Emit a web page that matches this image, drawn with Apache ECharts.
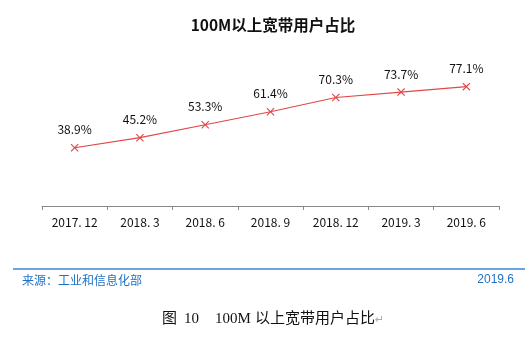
<!DOCTYPE html>
<html><head><meta charset="utf-8">
<script src="https://cdn.jsdelivr.net/npm/echarts@6/dist/echarts.min.js"></script>
<style>html,body{margin:0;padding:0;background:#fff}#c{width:525px;height:343px}</style>
</head><body><div id="c"></div>
<script>
const categories = ['2017. 12','2018. 3','2018. 6','2018. 9','2018. 12','2019. 3','2019. 6'];
const values = [38.9, 45.2, 53.3, 61.4, 70.3, 73.7, 77.1];
const chartTitle = '100M以上宽带用户占比';
const sourceText = '来源：工业和信息化部';
const dateText = '2019.6';

const xPath = 'path://M1,0L5,4L9,0L10,1L6,5L10,9L9,10L5,6L1,10L0,9L4,5L0,1Z';
const cjk = '"Noto Sans CJK SC", sans-serif';
const serif = '"Liberation Serif", "Noto Sans CJK SC", serif';
const chart = echarts.init(document.getElementById('c'));
chart.setOption({
  animation: false,
  title: { text: chartTitle, left: 268, top: 12, textAlign: 'center',
    textStyle: { fontSize: 15.5, fontWeight: 'bold', color: '#111', fontFamily: cjk } },
  grid: { left: 42, right: 26, top: 66, bottom: 137 },
  xAxis: { type: 'category', data: categories,
    axisLine: { onZero: false, lineStyle: { color: '#888' } },
    axisTick: { show: true, length: 4, lineStyle: { color: '#888' } },
    axisLabel: { color: '#111', fontSize: 12, margin: 10, fontFamily: cjk } },
  yAxis: { type: 'value', min: 2.5, max: 90, show: false, splitLine: { show: false } },
  series: [{
    type: 'line', data: values,
    lineStyle: { color: '#e04848', width: 1.2 },
    itemStyle: { color: '#e04848' },
    symbol: xPath, symbolSize: 8,
    label: { show: true, position: 'top', distance: 8, color: '#111', fontSize: 12,
      formatter: p => p.value.toFixed(1) + '%', fontFamily: cjk }
  }],
  graphic: [
    { type: 'line', shape: { x1: 13, y1: 269, x2: 525, y2: 269 }, style: { stroke: '#3a86d6', lineWidth: 1.5 } },
    { type: 'text', left: 22, top: 274, style: { text: sourceText, fill: '#1f72c6', fontSize: 12, fontFamily: cjk } },
    { type: 'text', right: 11, top: 274, style: { text: dateText, fill: '#1f72c6', fontSize: 12, fontFamily: 'Liberation Sans, sans-serif' } },
    { type: 'text', left: 162, top: 312, style: { text: '图', fill: '#111', fontSize: 15, fontFamily: serif } },
    { type: 'text', left: 184, top: 312, style: { text: '10', fill: '#111', fontSize: 15, fontFamily: serif } },
    { type: 'text', left: 215, top: 312, style: { text: '100M', fill: '#111', fontSize: 15, fontFamily: serif } },
    { type: 'text', left: 255, top: 312, style: { text: '以上宽带用户占比', fill: '#111', fontSize: 15, fontFamily: serif } },
    { type: 'text', left: 375, top: 315, style: { text: '↵', fill: '#aaa', fontSize: 11, fontFamily: 'DejaVu Sans' } }
  ]
});
</script></body></html>
